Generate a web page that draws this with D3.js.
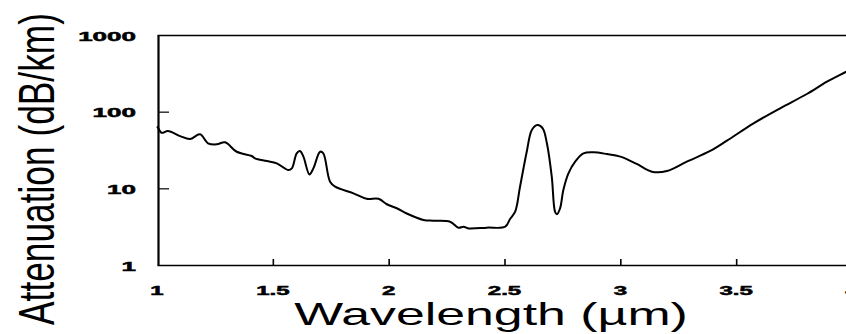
<!DOCTYPE html>
<html>
<head>
<meta charset="utf-8">
<script src="https://cdn.jsdelivr.net/npm/d3@7"></script>
<style>
  html, body { margin: 0; padding: 0; background: #fff; }
  svg { display: block; }
</style>
</head>
<body>
<svg id="chart" width="846" height="334"></svg>
<script>
// Fibre attenuation spectrum, 1–4 µm
const wavelength = [1.0, 1.004, 1.02, 1.047, 1.10, 1.142, 1.186, 1.22, 1.258, 1.294, 1.344, 1.409, 1.423, 1.474, 1.517, 1.567, 1.582, 1.603, 1.617, 1.632, 1.658, 1.675, 1.704, 1.718, 1.747, 1.769, 1.848, 1.905, 1.956, 1.992, 2.035, 2.078, 2.15, 2.193, 2.265, 2.301, 2.323, 2.344, 2.424, 2.503, 2.524, 2.546, 2.567, 2.596, 2.618, 2.642, 2.665, 2.683, 2.704, 2.718, 2.726, 2.74, 2.754, 2.776, 2.805, 2.841, 2.884, 2.942, 3.0, 3.071, 3.136, 3.201, 3.287, 3.388, 3.46, 3.575, 3.69, 3.805, 3.892, 3.975, 4.0];
const attenuation = [64, 62, 53, 56, 48, 44, 50.6, 38.7, 37.5, 39.8, 30, 26.4, 24.6, 22.7, 21.2, 17.3, 18.2, 28.6, 30.7, 25.9, 15.2, 18.2, 30, 28.6, 12.2, 10.5, 8.6, 7.3, 7.3, 6.2, 5.5, 4.7, 3.87, 3.78, 3.67, 3.07, 3.16, 3.0, 3.07, 3.16, 3.98, 4.96, 10.5, 30, 57.7, 67, 60.7, 38.7, 14.2, 4.96, 4.58, 5.5, 9.5, 15.7, 22.3, 28.6, 29.5, 28, 25.9, 20.8, 16.5, 16.8, 22.3, 30.7, 41.8, 70.5, 110.7, 170, 246, 332, 365];

const xTicks = [1, 1.5, 2, 2.5, 3, 3.5, 4];
const xTickLabels = ["1", "1.5", "2", "2.5", "3", "3.5", "4"];
const yTicks = [1, 10, 100, 1000];
const yTickLabels = ["1", "10", "100", "1000"];

(function draw() {
  const svg = d3.select("#chart");
  const plotLeft = 158, plotTop = 35, plotBottom = 265;

  const x = d3.scaleLinear().domain([1, 4]).range([157, 852]);
  const y = d3.scaleLog().domain([1, 1000]).range([plotBottom, plotTop]);

  const font = "'Liberation Sans', Arial, Helvetica, sans-serif";

  // frame: bottom axis with inward ticks
  const gx = svg.append("g").attr("transform", `translate(0,${plotBottom})`)
    .call(d3.axisBottom(x).tickValues(xTicks.slice(1, -1)).tickSizeInner(-6).tickSizeOuter(0).tickFormat(""));
  gx.select(".domain").attr("stroke", "#000").attr("stroke-width", 1.6);
  gx.selectAll(".tick line").attr("stroke", "#000").attr("stroke-width", 1.6);

  // top edge
  const gt = svg.append("g").attr("transform", `translate(0,${plotTop})`)
    .call(d3.axisTop(x).tickValues([]).tickSizeOuter(0));
  gt.select(".domain").attr("stroke", "#000").attr("stroke-width", 1.4);

  // left axis with inward ticks
  const gy = svg.append("g").attr("transform", `translate(${plotLeft},0)`)
    .call(d3.axisLeft(y).tickValues([10, 100]).tickSizeInner(-11).tickSizeOuter(0).tickFormat(""));
  gy.select(".domain").attr("stroke", "#000").attr("stroke-width", 2.2);
  gy.selectAll(".tick line").attr("stroke", "#000").attr("stroke-width", 1.2);

  // y tick labels (heavy, wide digits)
  svg.append("g").selectAll("text").data(yTicks).join("text")
    .attr("transform", d => `translate(136,${y(d) + 5.5}) scale(2,1)`)
    .attr("text-anchor", "end")
    .attr("font-family", font).attr("font-weight", "bold").attr("font-size", 13)
    .attr("fill", "#000").attr("stroke", "#000").attr("stroke-width", 0.5)
    .text((d, i) => yTickLabels[i]);

  // x tick labels
  svg.append("g").selectAll("text").data(xTicks).join("text")
    .attr("transform", d => `translate(${x(d)},295) scale(2,1)`)
    .attr("text-anchor", "middle")
    .attr("font-family", font).attr("font-weight", "bold").attr("font-size", 12)
    .attr("fill", "#000").attr("stroke", "#000").attr("stroke-width", 0.5)
    .text((d, i) => xTickLabels[i]);

  // axis titles
  svg.append("text")
    .attr("transform", "translate(491,325) scale(1.62,1)")
    .attr("text-anchor", "middle")
    .attr("font-family", font).attr("font-size", 32).attr("fill", "#000")
    .text("Wavelength (µm)");

  svg.append("text")
    .attr("transform", "translate(54,169) scale(1.42,1) rotate(-90)")
    .attr("text-anchor", "middle")
    .attr("font-family", font).attr("font-size", 35.3).attr("fill", "#000")
    .text("Attenuation (dB/km)");

  // attenuation curve
  const pts = wavelength.map((w, i) => [w, attenuation[i]]);
  const line = d3.line()
    .x(d => x(d[0]))
    .y(d => y(d[1]))
    .curve(d3.curveCatmullRom.alpha(0.5));

  svg.append("path")
    .datum(pts)
    .attr("d", line)
    .attr("fill", "none")
    .attr("stroke", "#000")
    .attr("stroke-width", 2)
    .attr("stroke-linejoin", "round");
})();
</script>
</body>
</html>
